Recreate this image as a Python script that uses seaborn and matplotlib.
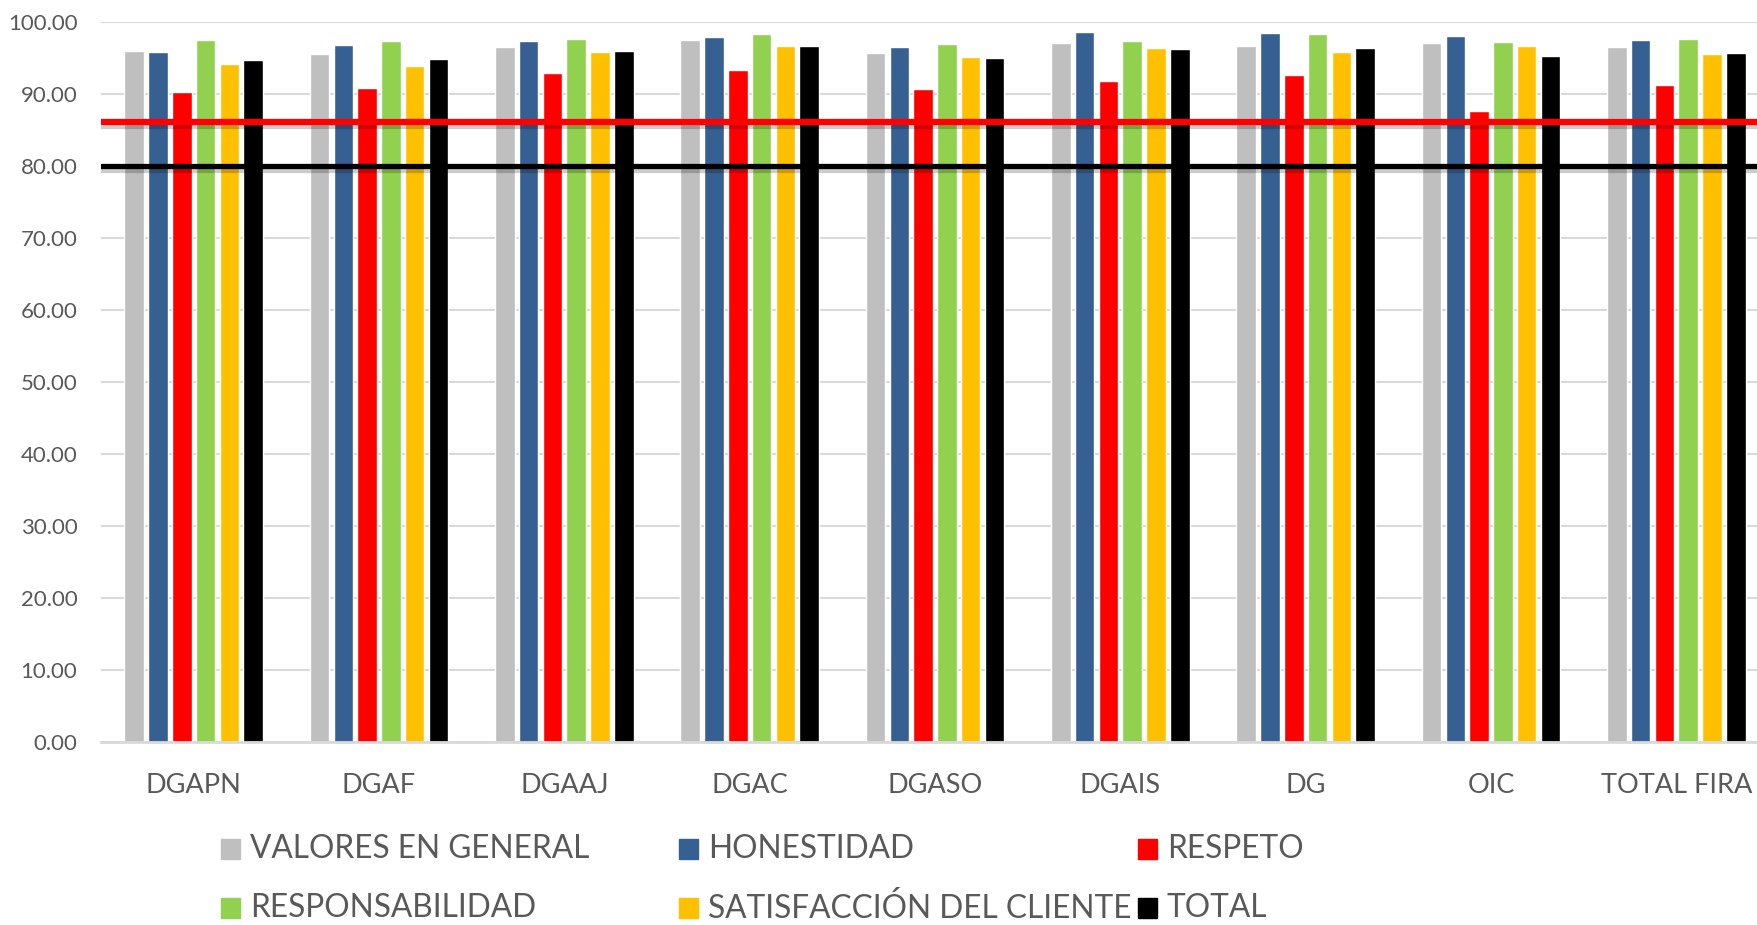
import matplotlib
matplotlib.use("Agg")
import matplotlib.pyplot as plt
import matplotlib.patheffects as pe
from matplotlib.patches import Rectangle
import seaborn as sns
import pandas as pd

# datos
areas = ["DGAPN", "DGAF", "DGAAJ", "DGAC", "DGASO", "DGAIS", "DG", "OIC", "TOTAL FIRA"]
series = ["VALORES EN GENERAL", "HONESTIDAD", "RESPETO",
          "RESPONSABILIDAD", "SATISFACCIÓN DEL CLIENTE", "TOTAL"]
valores_general = [96.0, 95.5, 96.5, 97.45, 95.7, 97.05, 96.65, 97.1, 96.5]
honestidad = [95.8, 96.85, 97.35, 97.85, 96.5, 98.55, 98.45, 98.05, 97.45]
respeto = [90.3, 90.9, 92.9, 93.4, 90.65, 91.8, 92.65, 87.65, 91.25]
responsabilidad = [97.45, 97.3, 97.6, 98.3, 96.95, 97.4, 98.4, 97.2, 97.6]
satisfaccion = [94.1, 93.9, 95.8, 96.6, 95.15, 96.35, 95.85, 96.65, 95.55]
total = [94.7, 94.85, 96.0, 96.7, 94.95, 96.2, 96.4, 95.3, 95.7]
meta_roja = 86.1
meta_negra = 80.0

colores = ["#BFBFBF", "#376092", "#FF0000", "#92D050", "#FFC000", "#000000"]

valores = [valores_general, honestidad, respeto, responsabilidad, satisfaccion, total]
filas = []
for s, vals in zip(series, valores):
    for a, v in zip(areas, vals):
        filas.append({"area": a, "serie": s, "valor": v})
df = pd.DataFrame(filas)

sns.set_style("white")
plt.rcParams["font.family"] = ["Lato", "DejaVu Sans"]

fig = plt.figure(figsize=(17.58, 9.25), dpi=100)
W, H = 1758, 925
ax = fig.add_axes([101 / W, (H - 742) / H, (1769 - 101) / W, 720 / H])

sns.barplot(data=df, x="area", y="valor", hue="serie", palette=colores,
            width=0.77, gap=0.18, ax=ax, legend=False, saturation=1)

ax.set_ylim(0, 100)
ax.set_xlim(-0.5, len(areas) - 0.5)
ax.set_yticks(range(0, 101, 10))
ax.set_yticklabels([f"{t:.2f}" for t in range(0, 101, 10)])
ax.tick_params(axis="y", labelsize=16, labelcolor="#595959", length=0, pad=17)
ax.tick_params(axis="x", labelsize=19.5, labelcolor="#595959", length=0, pad=22)
ax.set_xlabel("")
ax.set_ylabel("")
ax.grid(axis="y", color="#D9D9D9", lw=1.5)
ax.set_axisbelow(True)
for sp in ["top", "right", "left"]:
    ax.spines[sp].set_visible(False)
ax.spines["bottom"].set_color("#D9D9D9")
ax.spines["bottom"].set_linewidth(2)

sombra = [pe.SimpleLineShadow(offset=(0, -3), alpha=0.2, shadow_color="black"), pe.Normal()]
ax.axhline(meta_roja, color="#FF0000", lw=4.5, path_effects=sombra, zorder=5)
ax.axhline(meta_negra, color="#000000", lw=3.8, path_effects=sombra, zorder=5)

# leyenda en dos filas
pos_x = [221, 679, 1138, 221, 679, 1138]
pos_y = [849, 849, 849, 908, 908, 908]
for s, c, x, y in zip(series, colores, pos_x, pos_y):
    fig.add_artist(Rectangle((x / W, (H - y - 10) / H), 19 / W, 20 / H,
                             transform=fig.transFigure, color=c))
    fig.text((x + 29) / W, (H - y) / H, s, fontsize=22.8, color="#595959",
             va="center", ha="left")

fig.savefig("out.png", dpi=100)
